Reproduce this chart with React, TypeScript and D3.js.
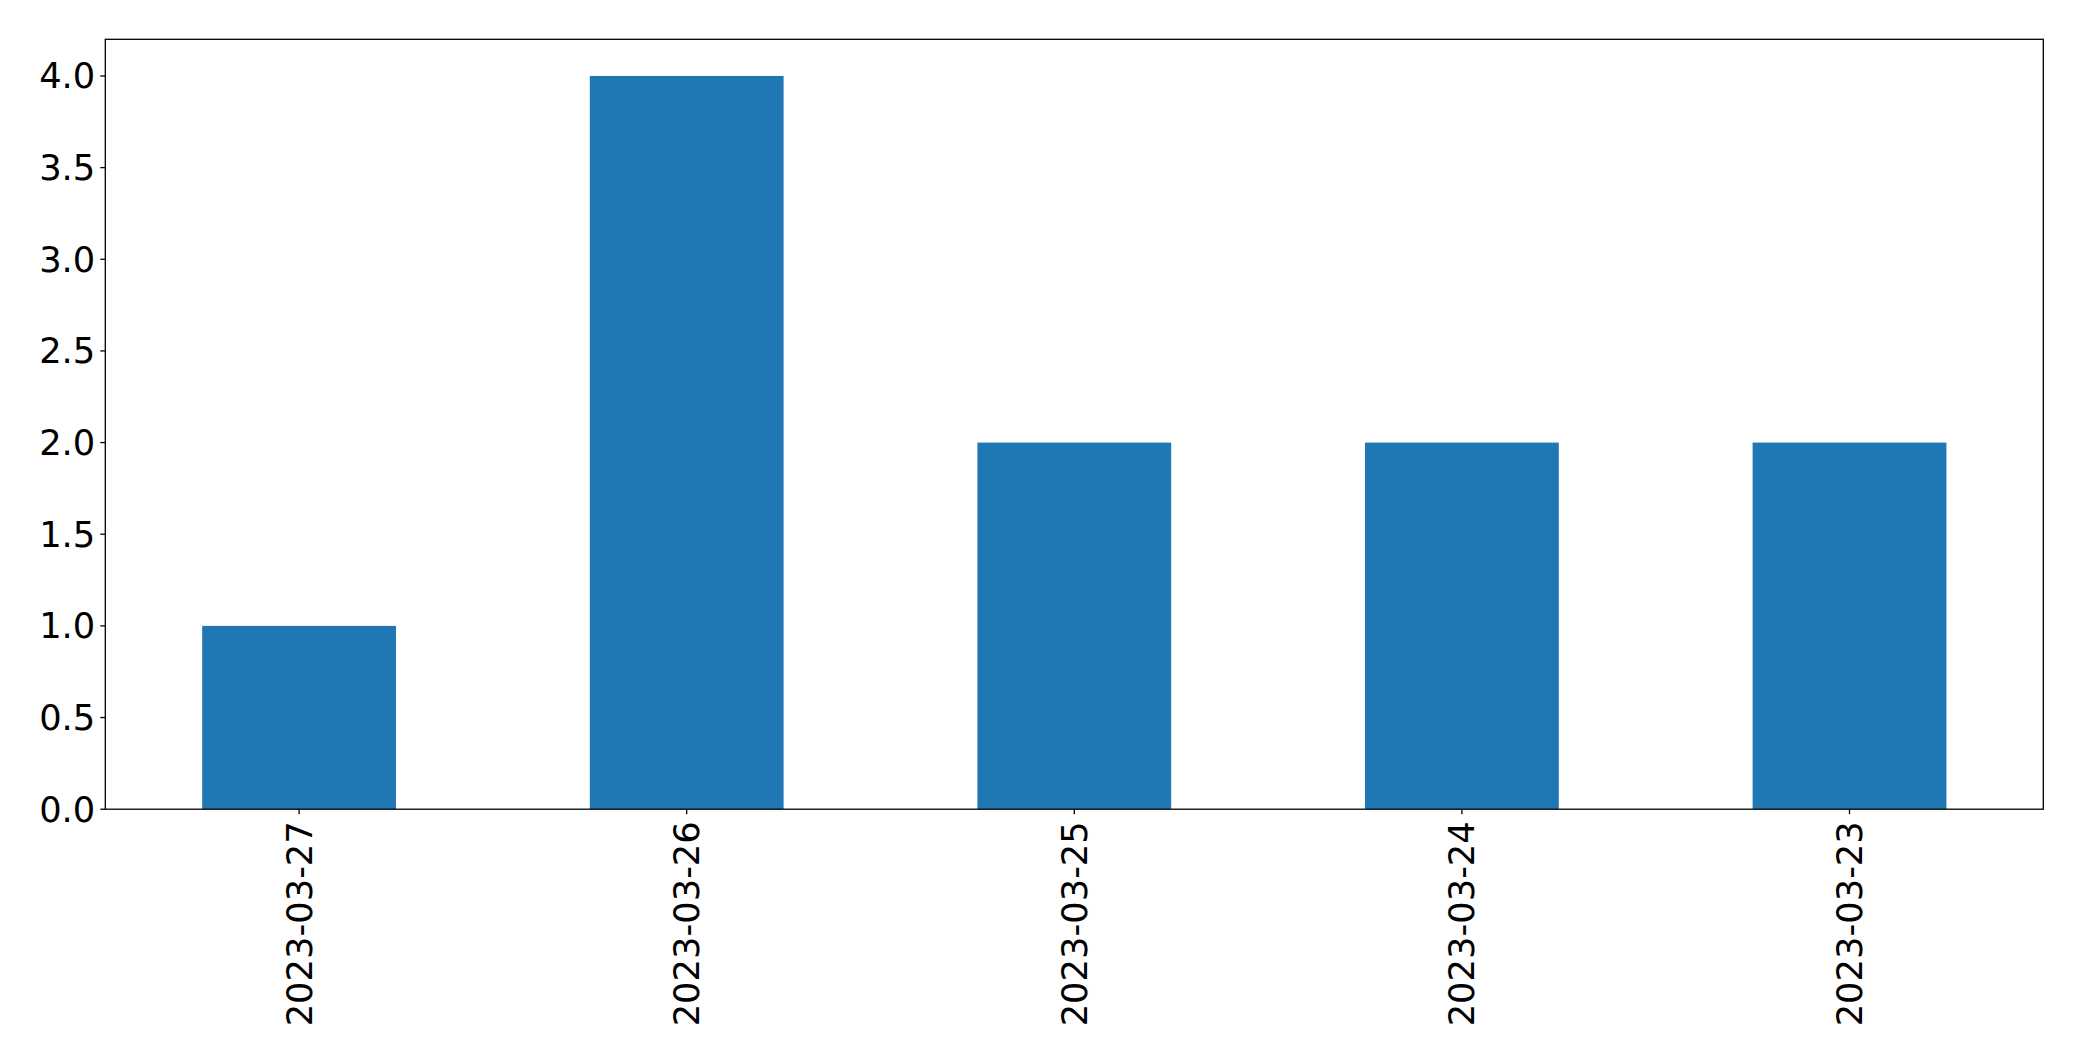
import React from "react";
import * as d3 from "d3";

const categories = ["2023-03-27", "2023-03-26", "2023-03-25", "2023-03-24", "2023-03-23"];
const values = [1, 4, 2, 2, 2];
const yTicks = [0, 0.5, 1, 1.5, 2, 2.5, 3, 3.5, 4];

const W = 2082;
const H = 1061;
const left = 105.3;
const right = 2043.3;
const top = 39.3;
const bottom = 809.2;
const FONT = "'DejaVu Sans', sans-serif";
const FS = 35.3;

export default function App() {
  const x = d3
    .scaleLinear()
    .domain([-0.5, categories.length - 0.5])
    .range([left, right]);
  const y = d3.scaleLinear().domain([0, 4.2]).range([bottom, top]);
  const bw = x(0.25) - x(-0.25);

  return (
    <svg
      width={W}
      height={H}
      style={{ position: "absolute", left: 0, top: 0, background: "#fff" }}
      fontFamily={FONT}
    >
      <rect x={0} y={0} width={W} height={H} fill="#fff" />
      {values.map((v, i) => (
        <rect
          key={i}
          x={x(i) - bw / 2}
          y={y(v)}
          width={bw}
          height={y(0) - y(v)}
          fill="#1f77b4"
        />
      ))}
      <rect
        x={left}
        y={top}
        width={right - left}
        height={bottom - top}
        fill="none"
        stroke="#000"
        strokeWidth={1.3}
      />
      {yTicks.map((t) => (
        <g key={t}>
          <line x1={left - 5} x2={left} y1={y(t)} y2={y(t)} stroke="#000" strokeWidth={1.3} />
          <text
            x={left - 10}
            y={y(t)}
            textAnchor="end"
            dominantBaseline="central"
            fontSize={FS}
            fill="#000"
          >
            {t.toFixed(1)}
          </text>
        </g>
      ))}
      {categories.map((c, i) => (
        <g key={c}>
          <line x1={x(i)} x2={x(i)} y1={bottom} y2={bottom + 5} stroke="#000" strokeWidth={1.3} />
          <text
            transform={`translate(${x(i)},${bottom + 12}) rotate(-90)`}
            textAnchor="end"
            dominantBaseline="central"
            fontSize={FS}
            fill="#000"
          >
            {c}
          </text>
        </g>
      ))}
    </svg>
  );
}
